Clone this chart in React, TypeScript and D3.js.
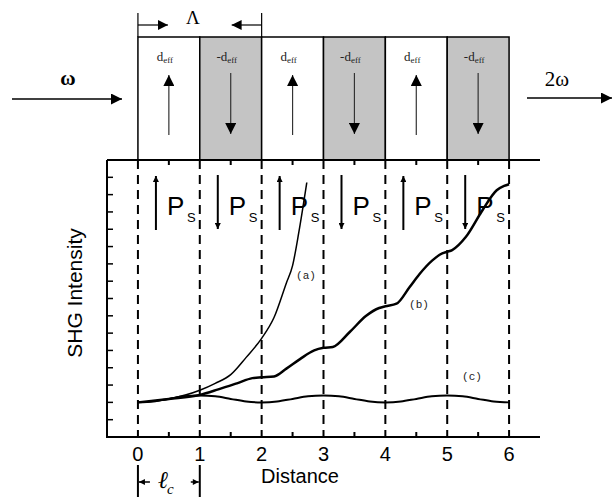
import React from 'react';
import * as d3 from 'd3';

// domain polarity, one entry per coherence length
const domainSigns = [1, -1, 1, -1, 1, -1];
const xTickLabels = ['0', '1', '2', '3', '4', '5', '6'];
const xMinorTicks = [0.5, 1.5, 2.5, 3.5, 4.5, 5.5];
const yTicks = [1, 2, 3, 4, 5, 6, 7, 8, 9, 10, 11, 12, 13, 14, 15];

// (a) phase matched
const curveA: [number, number][] = [
  [0, 2.0], [0.5, 2.2], [1, 2.7], [1.25, 3.1], [1.5, 3.6], [1.75, 4.6], [2, 5.7],
  [2.2, 6.9], [2.4, 8.9], [2.5, 9.9], [2.6, 11.8], [2.73, 14.7],
];
// (b) quasi phase matched
const curveB: [number, number][] = [
  [0, 2.0], [0.5, 2.2], [1, 2.43], [1.3, 2.75], [1.6, 3.1], [1.85, 3.4], [2, 3.45],
  [2.2, 3.5], [2.4, 3.95], [2.62, 4.5], [2.85, 5.0], [3, 5.15], [3.15, 5.2],
  [3.42, 6.05], [3.69, 7.0], [3.9, 7.45], [4, 7.55], [4.18, 7.7], [4.39, 8.65],
  [4.55, 9.4], [4.76, 10.2], [4.92, 10.6], [5, 10.7], [5.08, 10.8], [5.3, 11.55],
  [5.57, 13.1], [5.8, 14.25], [5.92, 14.5], [6, 14.6],
];
// (c) not phase matched
const curveC: [number, number][] = [
  [0, 2.0], [0.25, 2.05], [0.5, 2.2], [0.75, 2.35], [1, 2.4], [1.25, 2.35], [1.5, 2.2],
  [1.75, 2.05], [2, 2.0], [2.25, 2.05], [2.5, 2.2], [2.75, 2.35], [3, 2.4], [3.25, 2.35],
  [3.5, 2.2], [3.75, 2.05], [4, 2.0], [4.25, 2.05], [4.5, 2.2], [4.75, 2.35], [5, 2.4],
  [5.25, 2.35], [5.5, 2.2], [5.75, 2.05], [6, 2.0],
];

const serif = '"Liberation Serif", "DejaVu Serif", serif';
const sans = '"Liberation Sans", Arial, sans-serif';
const mono = '"Liberation Mono", "DejaVu Sans Mono", monospace';

const App = () => {
  const x = d3.scaleLinear().domain([-0.5, 6.5]).range([107, 540]);
  const y = d3.scaleLinear().domain([0, 16]).range([437, 160]);
  const line = d3.line<[number, number]>()
    .x(d => x(d[0]))
    .y(d => y(d[1]))
    .curve(d3.curveMonotoneX);

  const boxTop = 37;
  const boxBottom = y(16);
  const cell = x(1) - x(0);

  return (
    <svg width={612} height={497} style={{ position: 'absolute', left: 0, top: 0, background: '#fff' }}>
      <defs>
        <marker id="tri" viewBox="0 0 10 10" refX="10" refY="5" markerWidth="10" markerHeight="10"
          markerUnits="userSpaceOnUse" orient="auto">
          <path d="M0,0 L10,5 L0,10 Z" fill="#000" />
        </marker>
        <marker id="triBig" viewBox="0 0 10 10" refX="10" refY="5" markerWidth="12" markerHeight="11"
          markerUnits="userSpaceOnUse" orient="auto">
          <path d="M0,0 L10,5 L0,10 Z" fill="#000" />
        </marker>
        <marker id="triSmall" viewBox="0 0 10 10" refX="10" refY="5" markerWidth="8" markerHeight="6"
          markerUnits="userSpaceOnUse" orient="auto">
          <path d="M0,0 L10,5 L0,10 Z" fill="#000" />
        </marker>
      </defs>

      {/* domain strip */}
      {domainSigns.map((s, i) => {
        const x0 = x(i);
        const cx = x0 + cell / 2;
        return (
          <g key={'dom' + i}>
            <rect x={x0} y={boxTop} width={cell} height={boxBottom - boxTop}
              fill={s > 0 ? '#fff' : '#c4c4c4'} stroke="#000" strokeWidth={1.5} />
            <text x={cx - 4} y={61} fontFamily={serif} fontSize={13} textAnchor="middle" fill="#222">
              {s > 0 ? 'd' : '-d'}
              <tspan fontSize={9} dy={2}>eff</tspan>
            </text>
            {s > 0 ? (
              <line x1={cx} y1={135} x2={cx} y2={75} stroke="#333" strokeWidth={1.2} markerEnd="url(#triBig)" />
            ) : (
              <line x1={cx} y1={73} x2={cx} y2={134} stroke="#333" strokeWidth={1.2} markerEnd="url(#triBig)" />
            )}
          </g>
        );
      })}

      {/* period bracket */}
      <line x1={x(0)} y1={13} x2={x(0)} y2={boxTop} stroke="#000" strokeWidth={1.2} />
      <line x1={x(2)} y1={13} x2={x(2)} y2={boxTop} stroke="#000" strokeWidth={1.2} />
      <line x1={x(0)} y1={25} x2={x(0) + 30} y2={25} stroke="#000" strokeWidth={1.2} markerEnd="url(#tri)" />
      <line x1={x(2)} y1={25} x2={x(2) - 30} y2={25} stroke="#000" strokeWidth={1.2} markerEnd="url(#tri)" />
      <text x={x(1) - 7} y={24} fontFamily={serif} fontSize={19} textAnchor="middle">Λ</text>

      {/* input / output beams */}
      <line x1={12} y1={99} x2={122} y2={99} stroke="#000" strokeWidth={1.5} markerEnd="url(#triBig)" />
      <text x={68} y={85} fontFamily={serif} fontSize={21} fontWeight="bold" textAnchor="middle">ω</text>
      <line x1={527} y1={98} x2={612} y2={98} stroke="#000" strokeWidth={1.5} markerEnd="url(#triBig)" />
      <text x={557} y={86} fontFamily={serif} fontSize={21} textAnchor="middle">2ω</text>

      {/* dashed domain boundaries */}
      {xTickLabels.map((t, i) => (
        <line key={'dash' + t} x1={x(i)} y1={y(16)} x2={x(i)} y2={y(0)}
          stroke="#000" strokeWidth={2} strokeDasharray="9,6" />
      ))}

      {/* axes frame */}
      <line x1={107} y1={y(16)} x2={540} y2={y(16)} stroke="#000" strokeWidth={2} />
      <line x1={107} y1={y(0)} x2={540} y2={y(0)} stroke="#000" strokeWidth={2} />
      <line x1={107} y1={y(16)} x2={107} y2={y(0) + 1} stroke="#000" strokeWidth={2} />

      {xMinorTicks.map(t => (
        <g key={'xt' + t}>
          <line x1={x(t)} y1={y(0)} x2={x(t)} y2={y(0) - 5} stroke="#000" strokeWidth={2} />
          <line x1={x(t)} y1={y(16)} x2={x(t)} y2={y(16) + 5} stroke="#000" strokeWidth={2} />
        </g>
      ))}
      {yTicks.map(t => (
        <line key={'yt' + t} x1={107} y1={y(t)} x2={113} y2={y(t)} stroke="#000" strokeWidth={1.5} />
      ))}

      {xTickLabels.map((t, i) => (
        <text key={'xl' + t} x={x(i)} y={461} fontFamily={sans} fontSize={20} textAnchor="middle">{t}</text>
      ))}
      <text x={300} y={483} fontFamily={sans} fontSize={20} textAnchor="middle">Distance</text>
      <text transform="translate(82,293) rotate(-90)" fontFamily={sans} fontSize={21} textAnchor="middle">SHG Intensity</text>

      {/* spontaneous polarisation labels */}
      {domainSigns.map((s, i) => {
        const ax = x(i) + 18;
        return (
          <g key={'ps' + i}>
            {s > 0 ? (
              <line x1={ax} y1={230} x2={ax} y2={176} stroke="#000" strokeWidth={2} markerEnd="url(#triSmall)" />
            ) : (
              <line x1={ax} y1={175} x2={ax} y2={229} stroke="#000" strokeWidth={2} markerEnd="url(#triSmall)" />
            )}
            <text x={ax + 11} y={215} fontFamily={sans} fontSize={26}>P</text>
            <text x={ax + 31} y={222} fontFamily={sans} fontSize={13}>S</text>
          </g>
        );
      })}

      {/* curves */}
      <path d={line(curveC) || ''} fill="none" stroke="#000" strokeWidth={2} />
      <path d={line(curveA) || ''} fill="none" stroke="#000" strokeWidth={1.5} />
      <path d={line(curveB) || ''} fill="none" stroke="#000" strokeWidth={2.5} />

      <text x={306} y={279} fontFamily={mono} fontSize={11} textAnchor="middle" fill="#222">(a)</text>
      <text x={419} y={308} fontFamily={mono} fontSize={11} textAnchor="middle" fill="#222">(b)</text>
      <text x={472} y={380} fontFamily={mono} fontSize={11} textAnchor="middle" fill="#222">(c)</text>

      {/* coherence length marker */}
      <line x1={x(0)} y1={465} x2={x(0)} y2={497} stroke="#000" strokeWidth={2} />
      <line x1={x(1)} y1={465} x2={x(1)} y2={497} stroke="#000" strokeWidth={2} />
      <line x1={x(0) + 12} y1={482} x2={x(0) + 1} y2={482} stroke="#000" strokeWidth={1.5} markerEnd="url(#triSmall)" />
      <line x1={x(1) - 9} y1={482} x2={x(1) - 1} y2={482} stroke="#000" strokeWidth={1.5} markerEnd="url(#triSmall)" />
      <text x={158} y={488} fontFamily={serif} fontStyle="italic" fontSize={24}>ℓ</text>
      <text x={167} y={494} fontFamily={serif} fontStyle="italic" fontSize={15}>c</text>
    </svg>
  );
};

export default App;
